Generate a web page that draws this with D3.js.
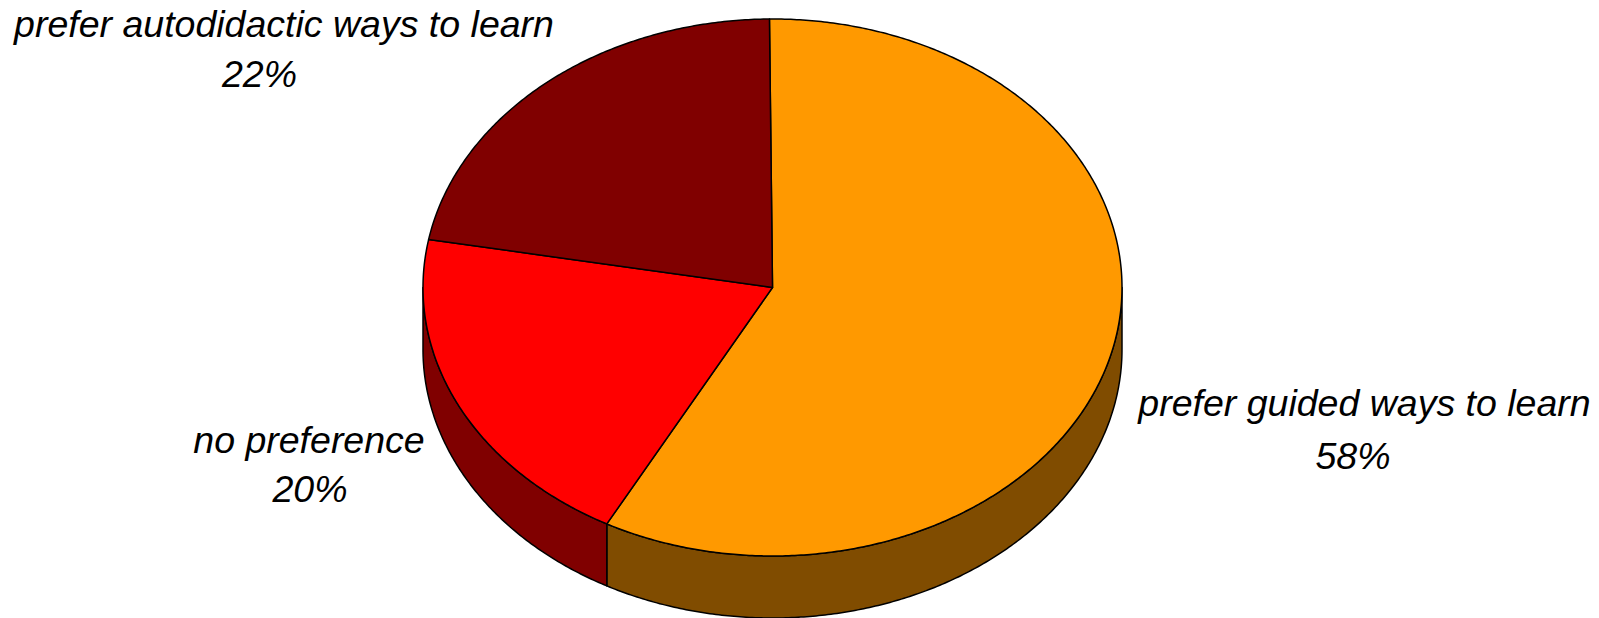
<!DOCTYPE html>
<html>
<head>
<meta charset="utf-8">
<script src="https://cdn.jsdelivr.net/npm/d3@7"></script>
<style>
  html, body { margin: 0; padding: 0; background: #ffffff; }
  svg { display: block; }
  text { font-family: "Liberation Sans", Arial, sans-serif; font-style: italic; fill: #000; }
</style>
</head>
<body>
<svg id="chart" width="1599" height="618"></svg>
<script>
// ---- data ----
const categories = ["prefer guided ways to learn", "no preference", "prefer autodidactic ways to learn"];
const values = [58, 20, 22];
const valueLabels = ["58%", "20%", "22%"];
const topColors = ["#FF9900", "#FF0000", "#800000"];
const sideColors = ["#804C00", "#800000", "#400000"];

// ---- layout ----
const W = 1599, H = 618;
const cx = 772.5, cy = 287.5, rx = 349.5, ry = 268.5, depth = 62;
const startDeg = -0.5;
const fontSize = 37.5;
// label placement: [line1 centerX, line1 baseline, line2 centerX, line2 baseline]
const labelPos = [
  [1364.5, 416, 1353, 469],
  [309, 453, 310, 502],
  [284, 37, 259.5, 87]
];

const svg = d3.select("#chart");

const pie = d3.pie().sort(null).value(d => d)
  .startAngle(startDeg * Math.PI / 180)
  .endAngle(startDeg * Math.PI / 180 + 2 * Math.PI);
const arcs = pie(values);

const xS = d3.scaleLinear().domain([-1, 1]).range([cx - rx, cx + rx]);
const yS = d3.scaleLinear().domain([-1, 1]).range([cy - ry, cy + ry]);
function pt(a, z) { return [xS(Math.sin(a)), yS(-Math.cos(a)) + z]; }
function sampleArc(a0, a1, z) {
  const n = Math.max(2, Math.ceil(Math.abs(a1 - a0) / (Math.PI / 360)));
  return d3.range(n + 1).map(i => pt(a0 + (a1 - a0) * i / n, z));
}
const line = d3.line();

// ---- side walls (front half only: angles between PI/2 and 3PI/2) ----
const sideG = svg.append("g");
arcs.forEach((d, i) => {
  const a0 = Math.max(d.startAngle, Math.PI / 2);
  const a1 = Math.min(d.endAngle, 3 * Math.PI / 2);
  if (a1 <= a0) return;
  const topEdge = sampleArc(a0, a1, 0);
  const botEdge = sampleArc(a1, a0, depth);
  sideG.append("path")
    .attr("d", line(topEdge.concat(botEdge)) + "Z")
    .attr("fill", sideColors[i])
    .attr("stroke", "#000")
    .attr("stroke-width", 1.5)
    .attr("stroke-linejoin", "round");
});

// ---- top faces ----
const topG = svg.append("g");
arcs.forEach((d, i) => {
  const pts = [[cx, cy]].concat(sampleArc(d.startAngle, d.endAngle, 0));
  topG.append("path")
    .attr("d", line(pts) + "Z")
    .attr("fill", topColors[i])
    .attr("stroke", "#000")
    .attr("stroke-width", 1.5)
    .attr("stroke-linejoin", "round");
});

// ---- labels ----
const labG = svg.append("g");
arcs.forEach((d, i) => {
  const p = labelPos[i];
  labG.append("text")
    .attr("x", p[0]).attr("y", p[1])
    .attr("text-anchor", "middle")
    .attr("font-size", fontSize)
    .text(categories[i]);
  labG.append("text")
    .attr("x", p[2]).attr("y", p[3])
    .attr("text-anchor", "middle")
    .attr("font-size", fontSize)
    .text(valueLabels[i]);
});
</script>
</body>
</html>
